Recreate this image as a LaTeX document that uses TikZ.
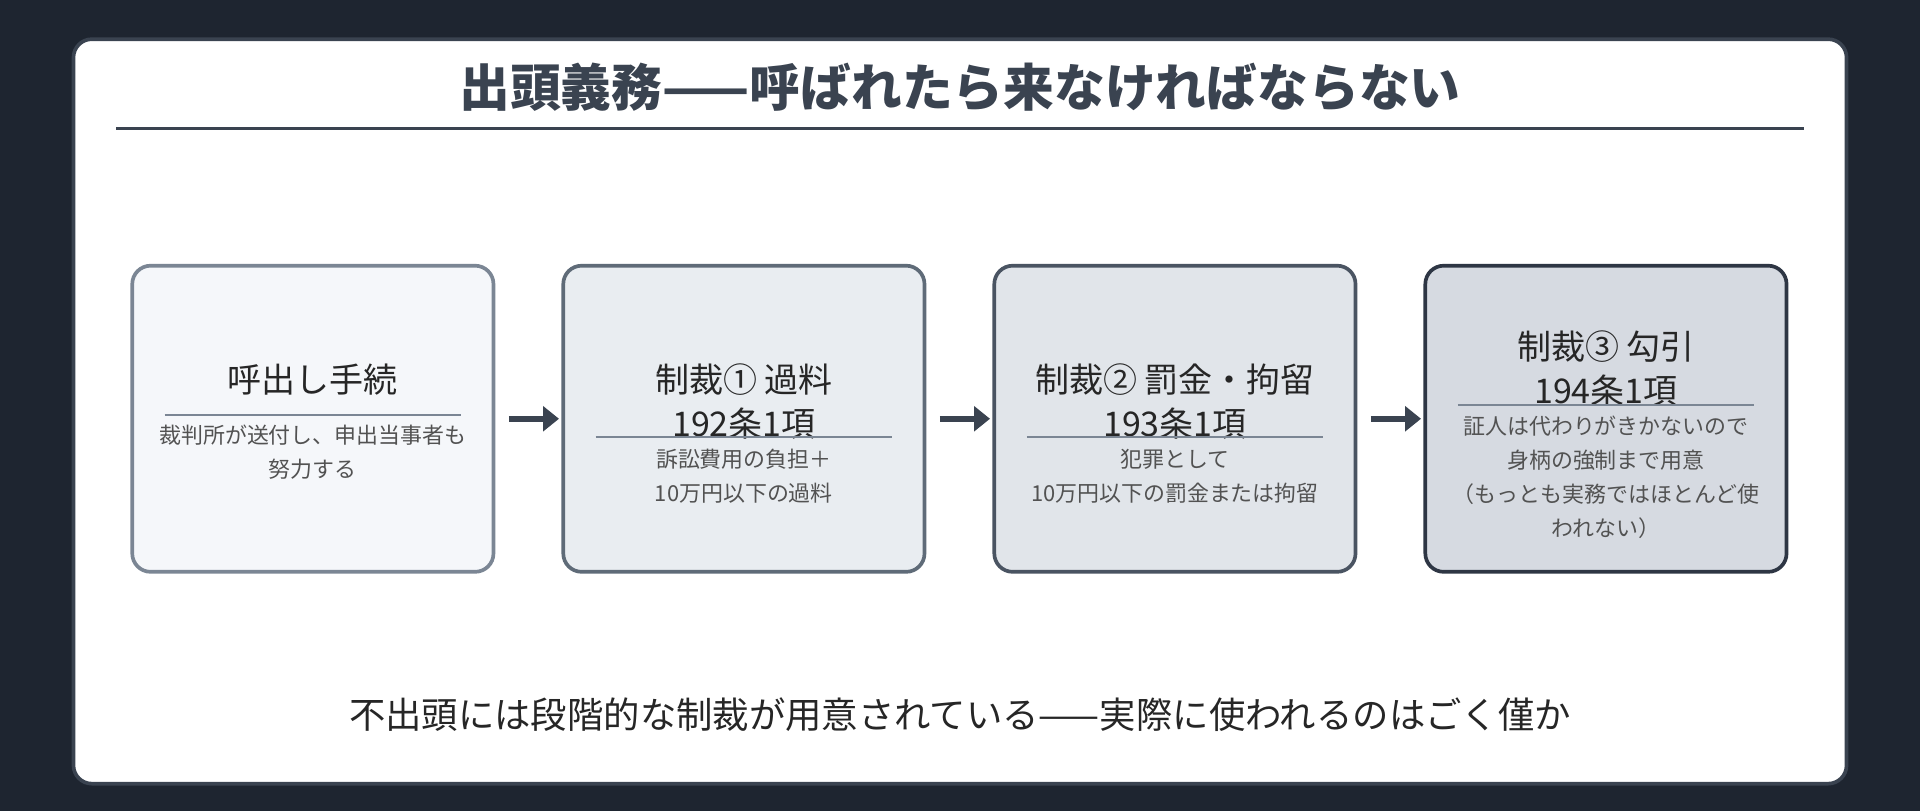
\documentclass[tikz,border=0pt]{standalone}
\usepackage{fontspec}
\setmainfont{Noto Sans CJK JP}
\usetikzlibrary{positioning,calc,arrows.meta}
\definecolor{ink}{HTML}{3A4350}
\definecolor{night}{HTML}{1E2530}
\definecolor{fillA}{HTML}{F5F7FA}
\definecolor{fillB}{HTML}{E9EDF1}
\definecolor{fillC}{HTML}{E1E5EA}
\definecolor{fillD}{HTML}{D6DAE1}
\definecolor{edgeA}{HTML}{7B8694}
\definecolor{edgeB}{HTML}{5F6B78}
\definecolor{edgeC}{HTML}{4A5462}
\definecolor{edgeD}{HTML}{2E3644}
\tikzset{
  step/.style={draw=#1,line width=0.03cm,rounded corners=0.15cm,minimum width=2.95cm,minimum height=2.5cm},
  head/.style={font=\fontsize{7.9pt}{10.2pt}\selectfont,text=black!85,align=center},
  note/.style={font=\fontsize{5.1pt}{7.9pt}\selectfont,text=black!68,align=center},
  rule/.style={edgeA,line width=0.018cm},
  flow/.style={-{Triangle[length=0.13cm,width=0.2cm]},line width=0.05cm,draw=ink,shorten <=0.11cm,shorten >=0.02cm}
}
\begin{document}
\begin{tikzpicture}[x=1cm,y=1cm]
  \fill[night] (0,0) rectangle (15.68,-6.62);
  \draw[ink,fill=white,line width=0.03cm,rounded corners=0.15cm] (0.6,-0.32) rectangle (15.08,-6.4);
  % title
  \node[font=\bfseries\fontsize{11.8pt}{13pt}\selectfont,text=ink] (title) at (7.84,-0.71) {出頭義務——呼ばれたら来なければならない};
  \draw[ink,line width=0.02cm] (0.95,-1.05) -- (14.73,-1.05);
  % steps
  \node[step=edgeA,fill=fillA] (b1) at (2.555,-3.42) {};
  \node[step=edgeB,fill=fillB] (b2) at (6.075,-3.42) {};
  \node[step=edgeC,fill=fillC] (b3) at (9.595,-3.42) {};
  \node[step=edgeD,fill=fillD] (b4) at (13.115,-3.42) {};
  % step 1
  \node[head] (h1) at ($(b1.center)+(0,0.32)$) {呼出し手続};
  \draw[rule] ($(b1.center)+(-1.21,0.03)$) -- ($(b1.center)+(1.21,0.03)$);
  \node[note] (n1) at ($(b1.center)+(0,-0.27)$) {裁判所が送付し、申出当事者も\\努力する};
  % step 2
  \node[head] (h2) at ($(b2.center)+(0,0.14)$) {制裁① 過料\\192条1項};
  \draw[rule] ($(b2.center)+(-1.21,-0.15)$) -- ($(b2.center)+(1.21,-0.15)$);
  \node[note] (n2) at ($(b2.center)+(0,-0.47)$) {訴訟費用の負担＋\\10万円以下の過料};
  % step 3
  \node[head] (h3) at ($(b3.center)+(0,0.14)$) {制裁② 罰金・拘留\\193条1項};
  \draw[rule] ($(b3.center)+(-1.21,-0.15)$) -- ($(b3.center)+(1.21,-0.15)$);
  \node[note] (n3) at ($(b3.center)+(0,-0.47)$) {犯罪として\\10万円以下の罰金または拘留};
  % step 4
  \node[head] (h4) at ($(b4.center)+(0,0.41)$) {制裁③ 勾引\\194条1項};
  \draw[rule] ($(b4.center)+(-1.21,0.11)$) -- ($(b4.center)+(1.21,0.11)$);
  \node[note] (n4) at ($(b4.center)+(0,-0.48)$) {証人は代わりがきかないので\\身柄の強制まで用意\\（もっとも実務ではほとんど使\\われない）};
  % arrows
  \draw[flow] (b1) -- (b2);
  \draw[flow] (b2) -- (b3);
  \draw[flow] (b3) -- (b4);
  % footer
  \node[font=\fontsize{8.45pt}{10pt}\selectfont,text=black!85] (foot) at (7.84,-5.84) {不出頭には段階的な制裁が用意されている——実際に使われるのはごく僅か};
\end{tikzpicture}
\end{document}
